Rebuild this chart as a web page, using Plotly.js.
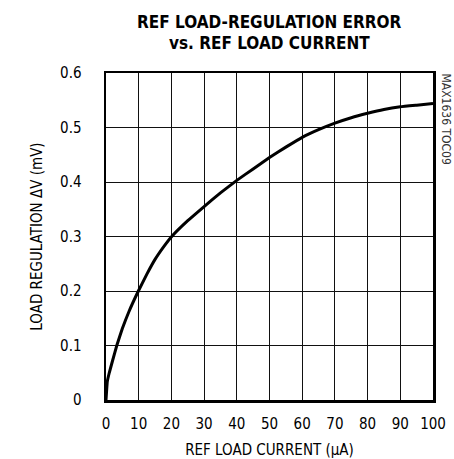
<!DOCTYPE html>
<html><head><meta charset="utf-8">
<script src="https://cdn.plot.ly/plotly-3.0.1.min.js"></script>
<style>body{margin:0;background:#fff}#c{width:454px;height:459px}</style>
</head><body><div id="c"></div>
<script>
const currentUA = [0, 0.4, 1, 2, 3.3, 5, 7, 9.9, 12.5, 15, 17.5, 20.1, 25, 30, 35, 40, 45, 50, 55, 60, 65, 70, 75, 80, 85, 90, 95, 100];
const loadRegMV = [0, 0.034, 0.05, 0.072, 0.1, 0.131, 0.162, 0.2, 0.231, 0.258, 0.28, 0.3, 0.329, 0.355, 0.38, 0.403, 0.424, 0.445, 0.464, 0.482, 0.496, 0.508, 0.518, 0.526, 0.533, 0.538, 0.541, 0.544];
const xTicks = [0,10,20,30,40,50,60,70,80,90,100];
const yTicks = [0,0.1,0.2,0.3,0.4,0.5,0.6];
const yTickText = ['0','0.1','0.2','0.3','0.4','0.5','0.6'];
const F = '"DejaVu Sans Condensed", "Liberation Sans Narrow", Roboto, sans-serif';
Plotly.newPlot('c', [{
  x: currentUA, y: loadRegMV, mode: 'lines', type: 'scatter',
  line: {color: '#000', width: 3, shape: 'spline', smoothing: 0.3},
  hoverinfo: 'none'
}], {
  width: 454, height: 459,
  margin: {l: 106, r: 21, t: 73, b: 59},
  paper_bgcolor: '#fff', plot_bgcolor: '#fff',
  showlegend: false,
  font: {family: F, color: '#000', size: 15},
  xaxis: {range: [0, 100], tickvals: xTicks, ticktext: xTicks.map(String), showgrid: true, gridcolor: '#111', gridwidth: 1,
    zeroline: false, showline: true, linecolor: '#000', linewidth: 2.5, mirror: true,
    ticks: 'outside', ticklen: 8, tickcolor: 'rgba(0,0,0,0)',
    title: {text: 'REF LOAD CURRENT (μA)', standoff: 13, font: {family: F, size: 15}}},
  yaxis: {range: [0, 0.6], tickvals: yTicks, ticktext: yTickText, showgrid: true, gridcolor: '#111', gridwidth: 1,
    zeroline: false, showline: true, linecolor: '#000', linewidth: 2.5, mirror: true,
    ticks: 'outside', ticklen: 19, tickcolor: 'rgba(0,0,0,0)',
    title: {text: 'LOAD REGULATION ΔV (mV)', standoff: 14, font: {family: F, size: 15}}},
  annotations: [
    {text: '<b>REF LOAD-REGULATION ERROR</b>', xref: 'paper', yref: 'paper', x: 0.5, y: 1 + (73-22)/327, xanchor: 'center', yanchor: 'middle', showarrow: false, font: {family: F, size: 17, color: '#000'}},
    {text: '<b>vs. REF LOAD CURRENT</b>', xref: 'paper', yref: 'paper', x: 0.5, y: 1 + (73-43)/327, xanchor: 'center', yanchor: 'middle', showarrow: false, font: {family: F, size: 17, color: '#000'}},
    {text: 'MAX1636 TOC09', xref: 'paper', yref: 'paper', x: 1, xanchor: 'left', xshift: 4, y: 1, yanchor: 'top', yshift: 2,
    textangle: 90, showarrow: false, font: {family: F, size: 12, color: '#333'}}]
}, {displayModeBar: false, staticPlot: true});
</script></body></html>
